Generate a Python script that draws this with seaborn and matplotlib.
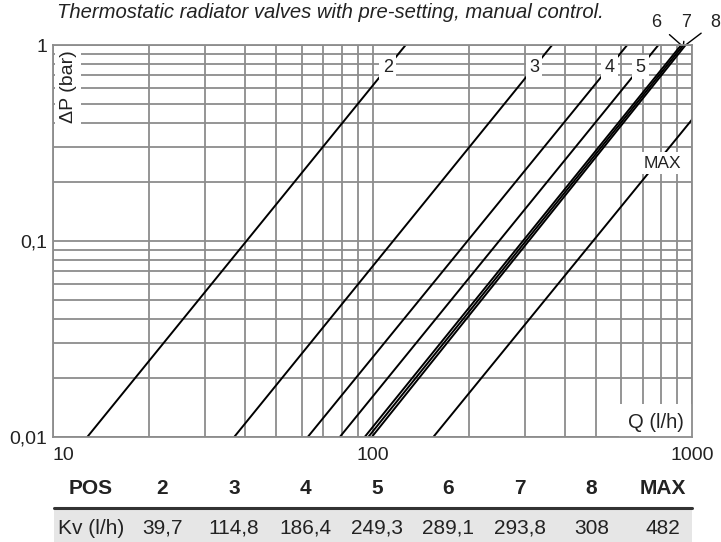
import numpy as np
import pandas as pd
import matplotlib
matplotlib.use('Agg')
import matplotlib.pyplot as plt
import seaborn as sns
from matplotlib.patches import Rectangle
from matplotlib.lines import Line2D
from matplotlib.ticker import NullFormatter

# data
positions = ['2', '3', '4', '5', '6', '7', '8', 'MAX']
kv_values = [39.7, 114.8, 186.4, 249.3, 289.1, 293.8, 308, 482]
q_at_low = [12.8, 36.9, 62.7, 79.0, 94.5, 97.0, 99.5, 155.0]    # Q (l/h) at 0.01 bar
q_at_high = [127, 365, 627, 785, 925, 940, 955, 1550]           # Q (l/h) at 1 bar
dp_ends = [0.01, 1.0]

x_ticks = [10, 100, 1000]
x_tick_labels = ['10', '100', '1000']
y_ticks = [0.01, 0.1, 1]
y_tick_labels = ['0,01', '0,1', '1']

rows = []
for p, lo, hi in zip(positions, q_at_low, q_at_high):
    rows.append({'pos': p, 'q': lo, 'dp': dp_ends[0]})
    rows.append({'pos': p, 'q': hi, 'dp': dp_ends[1]})
df = pd.DataFrame(rows)

sns.set_theme(style='white')
plt.rcParams['font.family'] = ['Liberation Sans', 'DejaVu Sans']

W, H = 721, 542
fig = plt.figure(figsize=(W / 100, H / 100), dpi=100)
ax = fig.add_axes([53 / W, 1 - 437 / H, (692 - 53) / W, (437 - 45) / H])
ax.set_xscale('log')
ax.set_yscale('log')

grid_c = '#8c8c8c'
ink = '#222222'

sns.lineplot(data=df, x='q', y='dp', units='pos', estimator=None, color='black',
             lw=1.4, ax=ax, legend=False, zorder=2)

ax.set_xlim(10, 1000)
ax.set_ylim(0.01, 1)
ax.grid(True, which='both', color=grid_c, lw=1.3)
ax.set_axisbelow(True)
ax.set_xlabel('')
ax.set_ylabel('')
ax.set_xticks(x_ticks, labels=x_tick_labels)
ax.set_yticks(y_ticks, labels=y_tick_labels)
ax.xaxis.set_minor_formatter(NullFormatter())
ax.yaxis.set_minor_formatter(NullFormatter())
ax.tick_params(which='both', length=0, labelsize=14, colors=ink)
ax.tick_params(axis='x', pad=7)
ax.tick_params(axis='y', pad=4)
ax.get_xticklabels()[0].set_ha('left')
for s in ax.spines.values():
    s.set_color(grid_c)
    s.set_linewidth(1.3)
    s.set_zorder(5)

white_box = dict(facecolor='white', edgecolor='none', boxstyle='square,pad=0.18')

# labels sitting on the curves
for p, hi in zip(positions[:4], q_at_high[:4]):
    ax.text(hi * np.sqrt(0.772), 0.772, p, ha='center', va='center', fontsize=13,
            color=ink, bbox=white_box, zorder=4)
ax.text(q_at_high[-1] * 0.52, 0.25, 'MAX', ha='center', va='center', fontsize=12.5,
        color=ink, bbox=white_box, zorder=4)

# 6, 7, 8 above the frame with leader lines
for p, hi, tx in zip(positions[4:7], q_at_high[4:7], [771, 957, 1180]):
    ax.annotate(p, xy=(hi, 1.0), xytext=(tx, 1.3), ha='center', va='center',
                fontsize=13, color=ink, annotation_clip=False,
                arrowprops=dict(arrowstyle='-', color='black', lw=1, shrinkA=5, shrinkB=0))

ax.text(0.0235, 0.893, 'ΔP (bar)', transform=ax.transAxes, rotation=90, ha='center',
        va='center', fontsize=14, color=ink, zorder=4,
        bbox=dict(facecolor='white', edgecolor='none', boxstyle='square,pad=0.25'))
ax.text(0.9437, 0.038, 'Q (l/h)', transform=ax.transAxes, ha='center', va='center',
        fontsize=14.5, color=ink, zorder=4,
        bbox=dict(facecolor='white', edgecolor='none', boxstyle='square,pad=0.45'))

fig.text(57 / W, 1 - 12 / H, 'Thermostatic radiator valves with pre-setting, manual control.',
         style='italic', fontsize=14.6, color=ink, ha='left', va='center')

# table under the chart
col_x = np.linspace(91, 663, 9) / W
fig.add_artist(Rectangle((54 / W, 0), (692 - 54) / W, 1 - 510 / H, transform=fig.transFigure,
                         facecolor='#e6e6e6', edgecolor='none'))
fig.add_artist(Line2D([54 / W, 692 / W], [1 - 508 / H, 1 - 508 / H], color='#333333', lw=2.2))
header = ['POS'] + positions
kv_row = ['Kv (l/h)'] + [f'{v:g}'.replace('.', ',') for v in kv_values]
for x, h, k in zip(col_x, header, kv_row):
    fig.text(x, 1 - 488 / H, h, ha='center', va='center', fontsize=15, weight='bold', color=ink)
    fig.text(x, 1 - 528 / H, k, ha='center', va='center', fontsize=15, color=ink)

fig.savefig('out.png', dpi=100)
